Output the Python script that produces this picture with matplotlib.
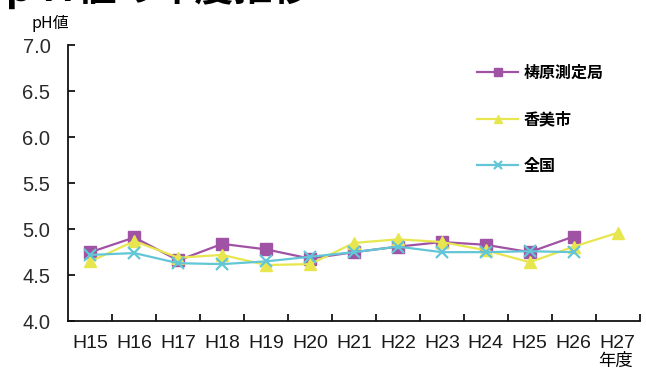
import matplotlib.pyplot as plt
import numpy as np
from matplotlib.ticker import FixedLocator, FormatStrFormatter

plt.rcParams["font.family"] = ["Liberation Sans", "Noto Sans CJK JP", "DejaVu Sans"]

years = ["H15", "H16", "H17", "H18", "H19", "H20", "H21",
         "H22", "H23", "H24", "H25", "H26", "H27"]
yusuhara = [4.75, 4.91, 4.66, 4.84, 4.78, 4.68, 4.75, 4.81, 4.86, 4.83, 4.75, 4.92]
kami = [4.65, 4.87, 4.69, 4.72, 4.61, 4.62, 4.85, 4.89, 4.86, 4.77, 4.64, 4.81, 4.96]
zenkoku = [4.72, 4.74, 4.63, 4.62, 4.65, 4.70, 4.75, 4.81, 4.75, 4.75, 4.76, 4.75]
series_names = ["梼原測定局", "香美市", "全国"]

fig = plt.figure(figsize=(6.46, 3.70), dpi=100)
ax = fig.add_axes([0.106, 0.132, 0.884, 0.746])

x = np.arange(len(years))
ax.plot(x[:len(yusuhara)], yusuhara, color="#A052A4", lw=1.6, marker="s",
        ms=8, label=series_names[0], zorder=3)
ax.plot(x[:len(kami)], kami, color="#E8E64E", lw=1.6, marker="^",
        ms=8.5, label=series_names[1], zorder=4)
ax.plot(x[:len(zenkoku)], zenkoku, color="#62C6D6", lw=1.6, marker="x",
        ms=8, mew=1.6, label=series_names[2], zorder=5)

ax.set_xlim(-0.5, len(years) - 0.5)
ax.set_ylim(4.0, 7.0)
ax.set_yticks(np.arange(4.0, 7.01, 0.5))
ax.yaxis.set_major_formatter(FormatStrFormatter("%.1f"))
ax.set_xticks(x)
ax.set_xticklabels(years)
ax.xaxis.set_minor_locator(FixedLocator(np.arange(0.5, len(years), 1.0)))

for side in ("top", "right"):
    ax.spines[side].set_visible(False)
for side in ("left", "bottom"):
    ax.spines[side].set_linewidth(1.3)
    ax.spines[side].set_color("#111111")

ax.tick_params(axis="x", which="major", length=0, pad=10, labelsize=14,
               labelcolor="#1a1a1a")
ax.tick_params(axis="x", which="minor", direction="in", length=5, width=1.2)
ax.tick_params(axis="y", direction="in", length=5, width=1.2, pad=13,
               labelsize=14.5, labelcolor="#2a2a2a")

fig.text(0.048, 0.925, "pH値", fontsize=11.5, family=["Noto Sans CJK JP"])
fig.text(0.926, 0.01, "年度", fontsize=12.5, family=["Noto Sans CJK JP"])
fig.text(0.0, 1.033, "ｐＨ値の年度推移", fontsize=28, fontweight="bold",
         family=["Noto Sans CJK JP"], va="center")

leg = ax.legend(loc="upper left", bbox_to_anchor=(0.69, 0.98), frameon=False,
                handlelength=2.6, handletextpad=0.3, labelspacing=1.9,
                markerscale=0.7,
                prop={"family": "Noto Sans CJK JP", "size": 11.5,
                      "weight": "bold"})

fig.savefig("out.png", dpi=100)
plt.close(fig)
